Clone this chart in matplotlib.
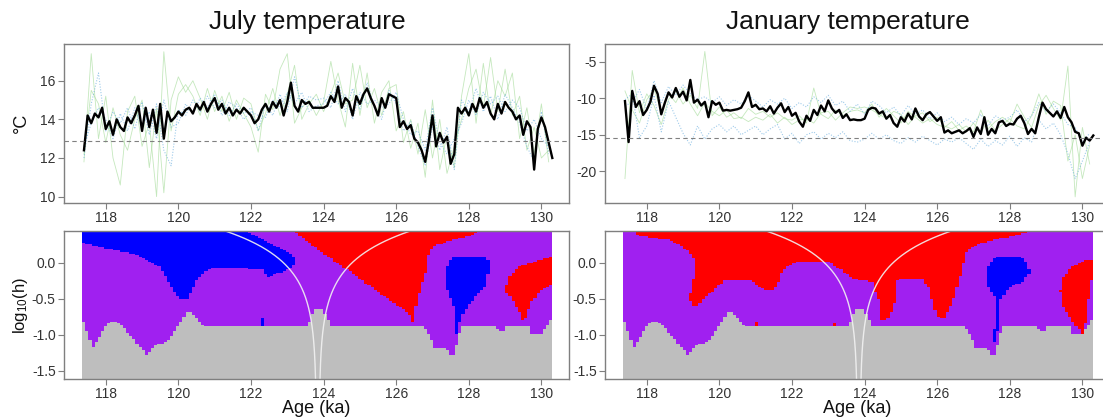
import numpy as np
import matplotlib
matplotlib.use("Agg")
import matplotlib.pyplot as plt
from matplotlib.colors import ListedColormap
from matplotlib.path import Path

plt.rcParams['font.family'] = ['Liberation Sans', 'DejaVu Sans']
plt.rcParams['axes.unicode_minus'] = False

# ---------------------------------------------------------------- top panels
# Ensemble-mean reconstructions, one value every 0.1 ka from 117.4 ka
MEAN_START, MEAN_STEP = 117.4, 0.1
july_mean = [
    12.4, 14.2, 13.8, 14.3, 14.1, 14.6, 13.5, 13.9, 13.2, 14.0,
    13.6, 13.4, 14.1, 13.8, 14.2, 14.7, 13.4, 14.6, 13.6, 14.5,
    13.3, 14.8, 13.0, 14.4, 13.9, 14.1, 14.4, 14.2, 14.5, 14.6,
    14.3, 14.8, 14.5, 14.9, 14.4, 14.8, 15.1, 14.5, 14.8, 14.3,
    14.6, 14.2, 14.5, 14.3, 14.6, 14.4, 14.2, 13.8, 14.0, 14.5,
    14.8, 14.4, 14.9, 14.6, 15.0, 14.2, 14.9, 15.9, 14.7, 14.4,
    15.0, 14.8, 14.9, 14.6, 14.6, 14.6, 14.6, 14.7, 15.2, 14.9,
    15.7, 14.6, 15.1, 14.9, 14.2, 15.2, 14.8, 15.3, 15.6, 15.1,
    14.7, 14.2, 15.1, 14.6, 15.3, 15.2, 15.1, 13.6, 13.9, 13.5,
    13.7, 13.0, 12.8, 12.4, 11.8, 12.9, 14.2, 12.6, 13.3, 12.8,
    13.1, 11.7, 12.2, 14.6, 14.3, 14.6, 14.2, 14.8, 14.4, 15.1,
    14.6, 14.9, 14.3, 14.0, 14.8, 14.3, 14.9, 14.6, 14.4, 14.0,
    14.2, 13.2, 13.9, 13.6, 11.4, 13.5, 14.1, 13.6, 12.8, 12.0,
]
january_mean = [
    -10.4, -16.0, -9.0, -11.2, -10.4, -12.3, -11.6, -10.5, -8.3, -9.4,
    -12.2, -10.6, -9.2, -9.9, -8.6, -9.8, -9.1, -10.3, -7.5, -10.6,
    -10.2, -11.0, -10.5, -12.6, -10.4, -10.9, -10.6, -11.7, -11.6, -11.7,
    -11.6, -11.5, -11.3, -10.4, -9.2, -11.2, -10.9, -11.5, -11.4, -11.8,
    -11.1, -12.1, -11.3, -10.7, -11.9, -11.2, -12.4, -12.0, -13.2, -13.9,
    -12.4, -13.1, -11.6, -12.3, -11.0, -11.8, -10.3, -11.4, -12.0, -11.6,
    -12.7, -12.2, -13.0, -12.9, -13.0, -13.0, -12.8, -11.6, -11.3, -11.4,
    -12.1, -11.8, -12.8, -12.3, -13.4, -13.9, -12.6, -13.2, -12.1, -12.9,
    -11.4, -12.5, -13.0, -12.2, -11.9, -12.5, -13.1, -12.6, -14.7, -14.4,
    -14.8, -14.6, -14.4, -14.8, -14.5, -14.1, -15.3, -14.0, -14.9, -12.6,
    -15.0, -14.2, -14.8, -13.3, -13.1, -13.8, -13.5, -13.6, -12.8, -12.4,
    -13.4, -14.9, -14.2, -14.8, -12.6, -10.6, -11.5, -12.0, -12.5, -11.8,
    -12.7, -11.2, -12.6, -13.3, -14.6, -14.8, -16.5, -15.4, -15.8, -15.1,
]

# Individual reconstructions, one value every 0.2 ka from 117.4 ka
MEMBER_START, MEMBER_STEP = 117.4, 0.2
july_green_a = [
    11.8, 17.4, 13.0, 15.2, 12.0, 10.6, 14.4, 15.2, 12.6, 13.8,
    10.0, 17.5, 13.4, 15.3, 15.8, 15.2, 14.2, 15.6, 14.4, 15.2,
    13.9, 15.0, 14.3, 13.6, 12.3, 15.3, 14.5, 16.6, 17.4, 13.8,
    14.6, 15.0, 14.2, 14.9, 17.0, 15.0, 13.6, 16.9, 14.2, 16.4,
    13.8, 15.4, 16.0, 13.4, 14.4, 12.5, 13.8, 11.0, 15.0, 11.4,
    13.2, 11.5, 15.2, 17.4, 13.8, 16.9, 14.2, 16.0, 15.2, 16.4,
    13.0, 14.6, 12.2, 14.8, 11.8,
]
july_green_b = [
    12.2, 15.5, 14.8, 12.8, 14.6, 13.2, 12.4, 14.0, 15.0, 11.5,
    14.6, 10.2, 15.0, 16.2, 15.4, 16.0, 15.1, 14.0, 15.5, 14.4,
    15.4, 14.0, 15.1, 14.8, 13.4, 14.3, 15.6, 14.2, 15.3, 16.8,
    14.0, 14.8, 15.3, 14.4, 15.3, 16.4, 14.8, 15.0, 16.8, 14.6,
    15.6, 14.2, 15.6, 15.8, 12.8, 14.0, 12.2, 14.5, 12.0, 14.0,
    11.2, 12.6, 14.0, 15.6, 16.6, 14.6, 17.2, 14.4, 16.6, 14.2,
    15.2, 12.4, 13.6, 12.0, 12.4,
]
july_blue_a = [
    12.0, 14.8, 16.4, 13.4, 14.4, 13.8, 14.6, 13.5, 14.9, 13.2,
    14.8, 12.4, 11.6, 14.5, 14.2, 15.0, 14.4, 15.2, 14.6, 15.0,
    14.2, 14.8, 14.3, 14.6, 13.4, 14.8, 14.2, 15.3, 14.4, 16.2,
    14.6, 15.2, 15.0, 15.1, 14.6, 16.0, 14.4, 15.6, 14.5, 15.9,
    14.6, 14.0, 15.5, 14.8, 13.4, 13.9, 12.6, 11.6, 13.6, 12.4,
    13.6, 11.4, 15.0, 14.4, 15.6, 14.4, 15.2, 14.0, 15.3, 14.6,
    13.8, 12.6, 11.8, 14.4, 12.2,
]
july_blue_b = [
    12.6, 13.8, 14.6, 14.0, 13.0, 14.3, 13.4, 14.6, 13.6, 14.4,
    13.0, 15.0, 13.6, 13.8, 14.8, 14.3, 15.1, 14.6, 15.3, 14.2,
    14.9, 14.6, 14.0, 14.4, 14.2, 14.1, 15.0, 14.6, 15.4, 14.8,
    15.4, 14.4, 14.7, 14.8, 15.4, 14.8, 15.3, 14.0, 15.4, 14.8,
    15.0, 14.6, 14.8, 15.4, 14.0, 13.2, 13.4, 12.4, 14.6, 12.8,
    12.2, 13.0, 13.8, 15.0, 14.2, 15.4, 14.8, 15.2, 14.4, 15.0,
    14.6, 13.4, 14.0, 13.0, 12.6,
]
january_green_a = [
    -21.0, -6.2, -12.0, -9.4, -11.0, -13.6, -10.2, -9.0, -10.8, -9.6,
    -11.4, -3.6, -12.4, -11.2, -12.6, -12.0, -12.8, -11.4, -12.2, -11.8,
    -12.6, -12.0, -12.8, -13.0, -12.4, -13.4, -8.6, -12.2, -12.8, -11.6,
    -12.4, -11.8, -11.6, -12.0, -10.8, -12.6, -11.4, -12.4, -13.4, -11.8,
    -12.6, -13.4, -12.8, -13.6, -14.0, -13.2, -14.4, -13.8, -14.6, -11.6,
    -14.2, -13.2, -12.6, -13.4, -10.8, -12.6, -14.0, -11.0, -9.6, -11.4,
    -13.0, -5.6, -23.5, -14.0, -19.0,
]
january_green_b = [
    -9.0, -11.6, -13.4, -10.2, -8.8, -11.8, -9.4, -10.6, -8.6, -10.8,
    -12.4, -10.6, -11.8, -12.4, -11.6, -12.8, -12.6, -13.2, -12.6, -13.0,
    -12.2, -13.4, -12.6, -13.6, -13.0, -12.8, -13.4, -12.0, -11.8, -13.0,
    -12.0, -11.2, -11.4, -11.2, -11.6, -12.2, -12.8, -11.8, -12.2, -13.6,
    -12.4, -12.0, -13.2, -12.6, -13.8, -14.2, -13.6, -14.6, -13.4, -14.8,
    -13.0, -14.4, -13.6, -12.8, -13.8, -14.2, -12.4, -9.4, -12.2, -10.4,
    -11.0, -18.6, -15.0, -21.0, -16.4,
]
january_blue_a = [
    -10.2, -9.4, -15.4, -13.8, -9.6, -14.6, -10.4, -12.6, -14.8, -16.4,
    -13.8, -15.6, -14.2, -13.6, -14.6, -13.8, -15.0, -14.4, -13.8, -15.0,
    -14.2, -13.6, -15.6, -14.8, -16.2, -15.0, -14.6, -15.6, -14.8, -15.4,
    -14.6, -15.8, -16.0, -15.6, -14.8, -15.6, -15.0, -15.8, -16.2, -15.4,
    -16.0, -15.2, -15.8, -16.4, -15.6, -16.0, -15.4, -16.2, -17.0, -15.6,
    -16.6, -15.8, -16.4, -15.2, -16.6, -15.4, -16.0, -13.0, -14.2, -13.4,
    -15.0, -17.6, -21.0, -18.6, -16.0,
]
january_blue_b = [
    -11.0, -10.6, -8.8, -11.6, -7.6, -10.6, -8.4, -9.6, -8.2, -9.4,
    -10.2, -9.8, -10.6, -9.8, -11.0, -10.2, -10.8, -9.6, -10.4, -11.2,
    -10.2, -10.8, -10.0, -11.4, -10.6, -11.2, -9.8, -10.6, -9.6, -11.0,
    -10.4, -11.8, -10.8, -12.2, -10.4, -11.0, -12.0, -11.2, -12.4, -11.0,
    -12.2, -11.6, -12.8, -12.0, -13.2, -12.6, -13.6, -12.8, -13.4, -12.2,
    -13.8, -12.4, -13.0, -12.6, -11.6, -13.2, -12.4, -10.6, -11.8, -10.8,
    -12.0, -13.6, -14.0, -16.0, -14.8,
]
july_reference = 12.88
january_reference = -15.5

# ------------------------------------------------------------- SiZer panels
AGE_MIN, AGE_MAX = 117.35, 130.3
# Upper edge of the region with too few data (same for both series)
sparse_age = [117.35, 117.64, 118.02, 118.1, 118.3, 118.42, 118.75, 119.12,
              119.4, 119.7, 120.27, 120.72, 123.56, 123.75, 123.97, 124.2,
              126.72, 126.95, 127.05, 127.4, 127.46, 127.6, 127.8, 128.75,
              128.8, 128.99, 129.05, 129.65, 129.7, 130.0, 130.3]
sparse_logh = [-0.76, -1.18, -0.87, -0.82, -0.82, -0.86, -1.05, -1.27,
               -1.14, -1.1, -0.66, -0.875, -0.875, -0.64, -0.64, -0.875,
               -0.875, -1.04, -1.2, -1.2, -1.27, -1.27, -0.875, -0.875,
               -0.95, -0.95, -0.875, -0.875, -1.0, -1.0, -0.76]

# Significant decrease (blue) / increase (red) regions as (age, log10 h)
july_blue = [
    [(117.3, 0.5), (117.3, 0.29), (117.84, 0.22), (118.75, 0.13),
     (119.49, -0.06), (119.76, -0.29), (120.04, -0.52), (120.26, -0.5),
     (120.5, -0.24), (120.82, -0.08), (121.5, -0.06), (122.33, -0.1),
     (122.46, -0.2), (122.69, -0.15), (123.0, -0.1), (123.2, -0.02),
     (123.25, 0.05), (123.1, 0.12), (121.87, 0.45), (121.85, 0.5)],
    [(122.27, -0.88), (122.33, -0.74), (122.39, -0.88)],
    [(127.55, 0.085), (127.45, 0.01), (127.36, -0.1), (127.41, -0.38),
     (127.6, -0.62), (127.6, -1.22), (127.68, -0.95), (127.82, -0.71),
     (128.1, -0.52), (128.46, -0.32), (128.57, -0.05), (128.54, 0.03),
     (128.46, 0.085)],
]
july_red = [
    [(123.1, 0.5), (123.15, 0.45), (123.75, 0.22), (124.67, -0.1),
     (125.58, -0.43), (126.31, -0.69), (126.45, -0.8), (126.5, -0.88),
     (126.55, -0.57), (126.64, -0.4), (126.82, -0.1), (126.91, 0.18),
     (127.09, 0.25), (127.55, 0.32), (128.1, 0.39), (128.37, 0.45),
     (128.4, 0.5)],
    [(130.35, 0.1), (129.75, 0.01), (129.38, -0.05), (129.11, -0.2),
     (129.0, -0.38), (129.2, -0.52), (129.43, -0.71), (129.52, -0.88),
     (129.6, -0.71), (129.75, -0.52), (130.0, -0.38), (130.35, -0.28)],
]
january_blue = [
    [(127.6, 0.085), (127.42, -0.01), (127.33, -0.2), (127.42, -0.34),
     (127.6, -0.48), (127.6, -0.8), (127.55, -1.15), (127.69, -0.9),
     (127.74, -0.52), (127.97, -0.34), (128.33, -0.27), (128.56, -0.15),
     (128.5, -0.01), (128.33, 0.085)],
]
january_red = [
    [(117.71, 0.5), (117.71, 0.39), (118.26, 0.34), (118.63, 0.32),
     (118.99, 0.22), (119.22, 0.13), (119.36, -0.01), (119.31, -0.2),
     (119.22, -0.34), (119.19, -0.52), (119.31, -0.62), (119.54, -0.52),
     (119.91, -0.34), (120.18, -0.24), (120.82, -0.24), (121.19, -0.36),
     (121.46, -0.38), (121.6, -0.29), (121.74, -0.1), (122.1, 0.015),
     (122.47, 0.03), (123.02, 0.015), (123.3, -0.08), (123.66, -0.22),
     (124.21, -0.27), (124.4, -0.52), (124.44, -0.8), (124.67, -0.78),
     (124.81, -0.57), (124.9, -0.25), (125.04, -0.22), (125.59, -0.22),
     (125.77, -0.34), (125.91, -0.62), (126.05, -0.78), (126.23, -0.76),
     (126.46, -0.48), (126.69, -0.06), (126.82, 0.18), (127.15, 0.27),
     (127.7, 0.34), (128.25, 0.39), (128.61, 0.45), (128.65, 0.5)],
    [(121.0, -0.88), (121.05, -0.72), (121.1, -0.88)],
    [(123.15, -0.88), (123.2, -0.79), (123.25, -0.88)],
    [(130.35, 0.04), (130.08, 0.04), (129.71, -0.06), (129.48, -0.2),
     (129.39, -0.38), (129.48, -0.62), (129.71, -0.8), (130.0, -0.99),
     (130.1, -0.8), (130.17, -0.52), (130.26, -0.24), (130.35, -0.2)],
]
# Horizon lines: centre age +/- window width
HORIZON_CENTER, HORIZON_SCALE, HORIZON_OFFSET = 123.84, 0.9, 0.04

SIZER_COLORS = ['#A020F0', '#0000FF', '#FF0000', '#BEBEBE']
AGE_TICKS = [118, 120, 122, 124, 126, 128, 130]
XLIM = (116.85, 130.76)

FRAME = '#7f7f7f'
TEXT = '#333333'

W, H = 1103, 419
fig = plt.figure(figsize=(W / 100, H / 100), dpi=100)


def box(left, top, right, bottom):
    return [left / W, 1 - bottom / H, (right - left) / W, (bottom - top) / H]


def style(ax):
    for s in ax.spines.values():
        s.set_color(FRAME)
        s.set_linewidth(1.0)
    ax.tick_params(direction='out', length=4, width=0.8, color=FRAME,
                   labelcolor=TEXT, labelsize=10, pad=2)
    ax.set_xlim(*XLIM)
    ax.set_xticks(AGE_TICKS)


def temperature_panel(ax, mean, greens, blues, ref, ylim, yticks):
    for g in greens:
        ages = MEMBER_START + MEMBER_STEP * np.arange(len(g))
        ax.plot(ages, g, color='#9ed992', lw=0.6, alpha=0.6, zorder=1)
    for b in blues:
        ages = MEMBER_START + MEMBER_STEP * np.arange(len(b))
        ax.plot(ages, b, color='#5fa8dc', lw=0.8, ls=(0, (1, 1.5)),
                alpha=0.6, zorder=2)
    ages = MEAN_START + MEAN_STEP * np.arange(len(mean))
    ax.plot(ages, mean, color='black', lw=1.7, zorder=3)
    ax.axhline(ref, color='#808080', lw=0.8, ls=(0, (4, 3)), zorder=4)
    ax.set_ylim(*ylim)
    ax.set_yticks(yticks)
    style(ax)


def sizer_panel(ax, blues, reds):
    xe = np.linspace(AGE_MIN, AGE_MAX, 151)
    ye = np.linspace(-1.63, 0.46, 96)
    xc = 0.5 * (xe[:-1] + xe[1:])
    yc = 0.5 * (ye[:-1] + ye[1:])
    X, Y = np.meshgrid(xc, yc)
    pts = np.column_stack([X.ravel(), Y.ravel()])
    cls = np.zeros(X.shape, dtype=int)
    for poly in blues:
        cls[Path(poly).contains_points(pts).reshape(X.shape)] = 1
    for poly in reds:
        cls[Path(poly).contains_points(pts).reshape(X.shape)] = 2
    cls[Y < np.interp(X, sparse_age, sparse_logh)] = 3
    ax.pcolormesh(xe, ye, cls, cmap=ListedColormap(SIZER_COLORS),
                  vmin=-0.5, vmax=3.5, shading='flat', zorder=1)
    logh = np.linspace(-1.63, 0.46, 300)
    half = HORIZON_SCALE * 10 ** logh + HORIZON_OFFSET
    for sign in (-1, 1):
        ax.plot(HORIZON_CENTER + sign * half, logh, color='#f2f2f2',
                lw=1.0, alpha=0.9, zorder=2)
    ax.set_ylim(-1.617, 0.445)
    ax.set_yticks([0.0, -0.5, -1.0, -1.5])
    ax.set_yticklabels(['0.0', '-0.5', '-1.0', '-1.5'])
    style(ax)
    ax.set_xlabel('Age (ka)', fontsize=13, color='#111111', labelpad=-1)


ax_jt = fig.add_axes(box(64, 44, 569, 203))
ax_nt = fig.add_axes(box(605, 44, 1110, 203))
ax_js = fig.add_axes(box(64, 231, 569, 379))
ax_ns = fig.add_axes(box(605, 231, 1110, 379))

temperature_panel(ax_jt, july_mean, [july_green_a, july_green_b],
                  [july_blue_a, july_blue_b], july_reference,
                  (9.67, 17.9), [10, 12, 14, 16])
temperature_panel(ax_nt, january_mean, [january_green_a, january_green_b],
                  [january_blue_a, january_blue_b], january_reference,
                  (-24.34, -2.58), [-5, -10, -15, -20])
sizer_panel(ax_js, july_blue, july_red)
sizer_panel(ax_ns, january_blue, january_red)

fig.text(307 / W, 1 - 22 / H, 'July temperature', ha='center', va='center',
         fontsize=19, color='#111111')
fig.text(848 / W, 1 - 22 / H, 'January temperature', ha='center',
         va='center', fontsize=19, color='#111111')
fig.text(21 / W, 1 - 123 / H, '°C', rotation=90, ha='center', va='center',
         fontsize=13, color='#111111')
fig.text(21 / W, 1 - 305 / H, r'$\mathregular{log_{10}(h)}$', rotation=90,
         ha='center', va='center', fontsize=12, color='#111111')

fig.savefig('out.png', dpi=100)
